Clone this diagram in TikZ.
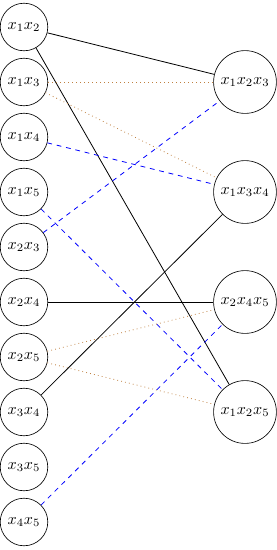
\documentclass[tikz,border=0pt]{standalone}
\begin{document}
\begin{tikzpicture}[x=0.625pt,y=-0.625pt,
  vtx/.style={draw,circle,inner sep=3.33pt},
  solidedge/.style={draw,black,line width=0.5pt},
  dottededge/.style={draw,brown,dotted,line width=0.5pt},
  dashededge/.style={draw,blue,dashed,line width=0.5pt}]
\useasboundingbox (0,0) rectangle (277,550);
\node[vtx] (a12) at (24,27) {$x_1x_2$};
\node[vtx] (a13) at (24,82) {$x_1x_3$};
\node[vtx] (a14) at (24,137) {$x_1x_4$};
\node[vtx] (a15) at (24,192) {$x_1x_5$};
\node[vtx] (a23) at (24,247) {$x_2x_3$};
\node[vtx] (a24) at (24,302) {$x_2x_4$};
\node[vtx] (a25) at (24,357) {$x_2x_5$};
\node[vtx] (a34) at (24,412) {$x_3x_4$};
\node[vtx] (a35) at (24,467) {$x_3x_5$};
\node[vtx] (a45) at (24,522) {$x_4x_5$};
\node[vtx] (b123) at (245,82) {$x_1x_2x_3$};
\node[vtx] (b134) at (245,192) {$x_1x_3x_4$};
\node[vtx] (b245) at (245,302) {$x_2x_4x_5$};
\node[vtx] (b125) at (245,412) {$x_1x_2x_5$};
\draw[solidedge] (a12) -- (b123);
\draw[solidedge] (a12) -- (b125);
\draw[dottededge] (a13) -- (b123);
\draw[dottededge] (a13) -- (b134);
\draw[dashededge] (a14) -- (b134);
\draw[dashededge] (a15) -- (b125);
\draw[dashededge] (a23) -- (b123);
\draw[solidedge] (a24) -- (b245);
\draw[dottededge] (a25) -- (b245);
\draw[dottededge] (a25) -- (b125);
\draw[solidedge] (a34) -- (b134);
\draw[dashededge] (a45) -- (b245);
\end{tikzpicture}
\end{document}
